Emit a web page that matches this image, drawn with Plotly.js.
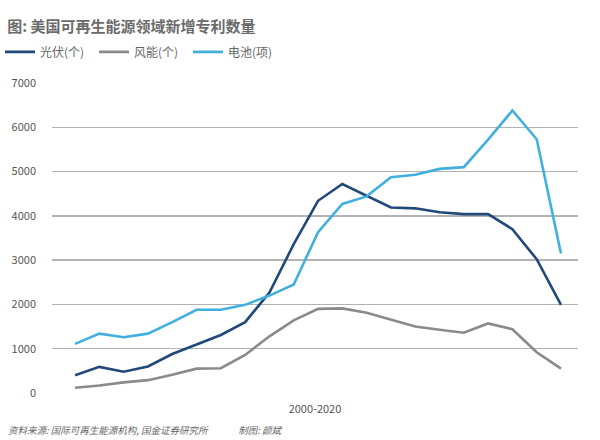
<!DOCTYPE html>
<html>
<head>
<meta charset="utf-8">
<script src="https://cdn.plot.ly/plotly-3.0.1.min.js"></script>
<style>html,body{margin:0;padding:0;background:#fff;}#chart{width:600px;height:440px;}</style>
</head>
<body>
<div id="chart"></div>
<script>
const years = [2000,2001,2002,2003,2004,2005,2006,2007,2008,2009,2010,2011,2012,2013,2014,2015,2016,2017,2018,2019,2020];
const solar = [400,590,480,600,880,1090,1310,1600,2270,3360,4340,4720,4460,4190,4170,4080,4040,4040,3700,3020,1990];
const wind = [120,170,240,290,410,550,560,860,1280,1640,1900,1910,1810,1660,1500,1430,1360,1570,1440,920,550];
const battery = [1110,1340,1260,1340,1600,1880,1880,1990,2200,2450,3630,4270,4440,4870,4930,5060,5100,5720,6380,5730,3150];
const seriesNames = ['光伏(个)', '风能(个)', '电池(项)'];
const yTicks = [0,1000,2000,3000,4000,5000,6000,7000];

const font = 'Noto Sans CJK SC, Noto Sans, sans-serif';
const xIdx = years.map((y,i)=>i);
const mk = (name, y, color) => ({
  x: xIdx, y: y, name: name, type: 'scatter', mode: 'lines',
  line: {color: color, width: 2.6}, hoverinfo: 'skip'
});
const data = [
  mk(seriesNames[0], solar, '#21497a'),
  mk(seriesNames[1], wind, '#8a8a8a'),
  mk(seriesNames[2], battery, '#42b0df')
];
const layout = {
  width: 600, height: 440,
  margin: {l: 52, r: 22, t: 83, b: 47, autoexpand: false},
  paper_bgcolor: '#fff', plot_bgcolor: '#fff',
  font: {family: font, color: '#555', size: 11},
  title: {text: '<b>图: 美国可再生能源领域新增专利数量</b>', x: 0.012, xanchor: 'left', y: 0.94, yanchor: 'middle',
          font: {family: font, size: 15, color: '#6b6b6b'}},
  showlegend: true,
  legend: {orientation: 'h', xref: 'container', yref: 'container', x: -0.006, xanchor: 'left', y: 0.882, yanchor: 'middle',
           font: {family: font, size: 12, color: '#666'}, itemwidth: 30, tracegroupgap: 0, entrywidth: 49,
           bgcolor: 'rgba(0,0,0,0)'},
  xaxis: {
    range: [-0.95, 20.7], showgrid: false, zeroline: false, showticklabels: false,
    ticks: '', showline: false, fixedrange: true, automargin: false,
    title: {text: '2000-2020', font: {family: font, size: 11, color: '#555'}, standoff: 12}
  },
  yaxis: {
    range: [0, 7000], tickvals: yTicks, ticktext: yTicks.map(String), automargin: false,
    showgrid: true, gridcolor: '#b3b3b3', gridwidth: 1.3, zeroline: false, showline: false,
    ticks: '', ticklabelstandoff: 15, tickfont: {family: font, size: 11, color: '#555'}, fixedrange: true
  },
  annotations: [{
    text: '<i>资料来源: 国际可再生能源机构, 国金证券研究所　　　 制图: 颜斌</i>',
    xref: 'paper', yref: 'paper', x: -0.087, y: -0.119, xanchor: 'left', yanchor: 'middle',
    showarrow: false, font: {family: font, size: 9.5, color: '#666'}
  }]
};
Plotly.newPlot('chart', data, layout, {displayModeBar: false, staticPlot: true});
</script>
</body>
</html>
